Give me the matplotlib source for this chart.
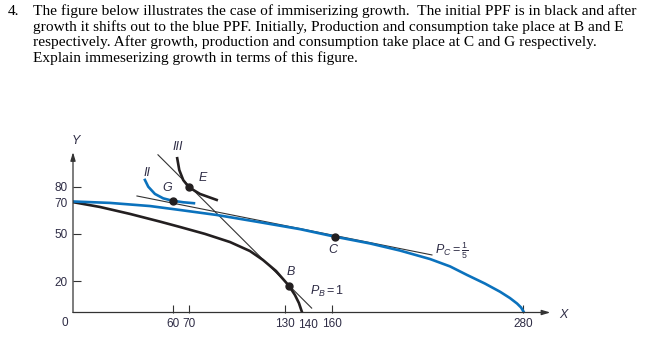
import matplotlib
matplotlib.use('Agg')
import matplotlib.pyplot as plt
import numpy as np

plt.rcParams['font.family'] = 'Liberation Sans'
plt.rcParams['mathtext.fontset'] = 'custom'
plt.rcParams['mathtext.rm'] = 'Liberation Sans'
plt.rcParams['mathtext.it'] = 'Liberation Sans:italic'

#%% data
question = ['The figure below illustrates the case of immiserizing growth.  The initial PPF is in black and after',
            'growth it shifts out to the blue PPF. Initially, Production and consumption take place at B and E',
            'respectively. After growth, production and consumption take place at C and G respectively.',
            'Explain immeserizing growth in terms of this figure.']

xticks = [60, 70, 130, 160, 280]
yticks = [20, 50, 70, 80]

# initial PPF (black), meets the X axis at 140
ppf0_x = [-3, 14, 32.8, 51.7, 64.2, 79.9, 95.7, 108.2, 116.4, 124.6, 132.8, 136.5, 139, 141]
ppf0_y = [70.2, 67.1, 62.7, 57.8, 54.4, 50, 44.8, 39.1, 33.4, 26.4, 16.9, 11.1, 6, 0]
# PPF after growth (blue)
ppf1_x = [-3, 20.2, 45.4, 64.2, 87.5, 114.5, 139.7, 161.7, 183.7, 202.5, 221.4, 234, 244.6, 255.9, 265.4, 271.6, 276.1, 278.6, 280.5]
ppf1_y = [70.6, 69.7, 67.7, 65.2, 62, 57.4, 53, 48.2, 43.9, 39.4, 34, 29.3, 23.9, 18.4, 13.2, 9.2, 5.7, 3.2, 0]
# indifference curves
ic3_x = [62.5, 63.8, 66.3, 69.9, 76.8, 87.3]
ic3_y = [98.1, 90.6, 84.2, 79.6, 75.4, 71.6]
ic2_x = [42.2, 44.3, 48.5, 53.7, 59.4, 66.3, 73]
ic2_y = [84.3, 80, 75.4, 72.6, 71.1, 70.1, 69.5]
# price lines
pb_x, pb_y = [50.4, 147], [100.3, 2.8]
pc_x, pc_y = [37.2, 222.6], [74.1, 36.6]
# points
pts = {'B': (132.8, 16.6), 'C': (161.7, 48.3), 'E': (70, 79.8), 'G': (59.6, 70.6)}

#%% plot
blue = '#0b72bd'
dark = '#231f20'
txtc = '#2e2c45'

fig = plt.figure(figsize=(6.57, 3.59), dpi=100)
fig.patch.set_facecolor('white')

fs_q = 11.1
fig.text(8/657, 1-15/359, '4.', family='Liberation Serif', fontsize=fs_q, va='baseline')
for i, line in enumerate(question):
    fig.text(33/657, 1-(15+15.6*i)/359, line, family='Liberation Serif', fontsize=fs_q, va='baseline')

ax = fig.add_axes([73.0/657, 1-312.5/359, 482.1/657, 165.1/359])
ax.set_xlim(-3, 300)
ax.set_ylim(0, 105)
for s in ax.spines.values():
    s.set_visible(False)

# axes with arrows
ax.annotate('', xy=(297, 0), xytext=(-3, 0), annotation_clip=False,
            arrowprops=dict(arrowstyle='-|>,head_length=0.5,head_width=0.15', color='#333', lw=0.9, shrinkA=0, shrinkB=0))
ax.annotate('', xy=(-3, 102), xytext=(-3, 0), annotation_clip=False,
            arrowprops=dict(arrowstyle='-|>,head_length=0.5,head_width=0.15', color='#333', lw=0.9, shrinkA=0, shrinkB=0))

ax.set_xticks(xticks)
ax.set_xticklabels([str(v) for v in xticks])
ax.set_yticks(yticks)
ax.set_yticklabels([str(v) for v in yticks])
ax.tick_params(direction='in', length=6, width=0.8, color='#333', labelsize=8.5, labelcolor=txtc, pad=4)
# 140 has no tick mark, only a label next to the PPF's end
ax.annotate('140', xy=(ppf0_x[-1], 0), xytext=(4, -5), textcoords='offset points',
            fontsize=8.5, color=txtc, ha='center', va='top', annotation_clip=False)
ax.text(-8, -6.7, '0', fontsize=8.5, color=txtc, ha='center', va='center', clip_on=False)

ax.plot(pb_x, pb_y, color='#333', lw=0.8)
ax.plot(pc_x, pc_y, color='#333', lw=0.8)
ax.plot(ppf0_x, ppf0_y, color=dark, lw=1.9, solid_capstyle='butt')
ax.plot(ppf1_x, ppf1_y, color=blue, lw=1.9, solid_capstyle='butt')
ax.plot(ic3_x, ic3_y, color=dark, lw=1.9)
ax.plot(ic2_x, ic2_y, color=blue, lw=1.9)
for k, (px, py) in pts.items():
    ax.plot(px, py, 'o', color=dark, ms=5, zorder=5)

lab = dict(fontsize=9, style='italic', color=txtc, ha='center', va='center')
ax.text(-1.1, 109, 'Y', clip_on=False, **lab)
ax.text(305, -1.6, 'X', clip_on=False, **lab)
ax.text(63, 105.2, 'III', clip_on=False, **lab)
ax.text(43.5, 88.7, 'II', **lab)
ax.text(56.1, 79.2, 'G', **lab)
ax.text(78.7, 85.6, 'E', **lab)
ax.text(160.4, 39.8, 'C', **lab)
ax.text(134, 25.8, 'B', **lab)
ax.text(146, 13.2, r'$P_B = 1$', fontsize=9, color=txtc, va='center')
ax.text(224.5, 39.3, r'$P_C = \frac{1}{5}$', fontsize=9, color=txtc, va='center')

fig.savefig('out.png', dpi=100)
